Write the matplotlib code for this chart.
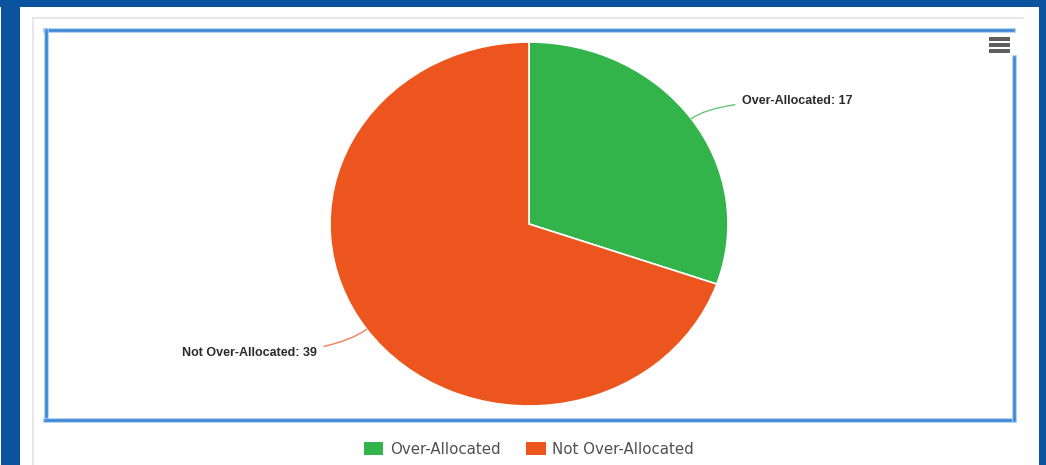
import matplotlib
matplotlib.use("Agg")
import matplotlib.pyplot as plt
from matplotlib.patches import Rectangle
from matplotlib.lines import Line2D
import numpy as np

categories = ["Over-Allocated", "Not Over-Allocated"]
values = [17, 39]
colors = ["#33b44a", "#ec561e"]

W, H = 1046, 465
fig = plt.figure(figsize=(W / 100, H / 100), dpi=100)

# background / frame overlay in pixel coordinates
bg = fig.add_axes([0, 0, 1, 1], zorder=0)
bg.set_xlim(0, W)
bg.set_ylim(H, 0)
bg.axis("off")
navy = "#0b539f"
bg.add_patch(Rectangle((0, 0), W, 7, color=navy, lw=0))
bg.add_patch(Rectangle((1, 0), 19, H, color=navy, lw=0))
bg.add_patch(Rectangle((1039, 0), 7, H, color=navy, lw=0))
# light gray panel
bg.add_line(Line2D([33, 1023], [18, 18], color="#e3e3e3", lw=1.2))
bg.add_line(Line2D([33, 33], [18, H], color="#e3e3e3", lw=1.2))
# blue chart frame
blue = "#3a84d4"
for xs, ys in (([45, 1013], [30.5, 30.5]), ([45.5, 45.5], [30, 420]),
               ([45, 1014], [419.5, 419.5]), ([1013.5, 1013.5], [57, 420])):
    bg.add_line(Line2D(xs, ys, color="#a9cdf2", lw=3.4))
    bg.add_line(Line2D(xs, ys, color=blue, lw=1.8))
# hamburger menu icon
for yy in (39, 45, 51):
    bg.add_patch(Rectangle((989, yy - 1.6), 21, 3.2, color="#5f5f5f", lw=0))

# pie axes: horizontal radius 199 px, vertical radius 182 px
cx, cy, rx, ry = 529, 224, 199, 182
pie_ax = fig.add_axes([(cx - rx) / W, (H - cy - ry) / H, 2 * rx / W, 2 * ry / H], zorder=1)
pie_ax.patch.set_alpha(0)
wedges, _ = pie_ax.pie(values, colors=colors, startangle=90, counterclock=False,
                       radius=1, wedgeprops=dict(edgecolor="white", linewidth=1.2))
pie_ax.set_aspect("auto")
pie_ax.set_xlim(-1, 1)
pie_ax.set_ylim(-1, 1)
pie_ax.axis("off")

label_pos = [(1.07, 0.676), (-1.065, -0.709)]
for w, cat, v, col, (tx, ty) in zip(wedges, categories, values, colors, label_pos):
    ang = np.deg2rad((w.theta1 + w.theta2) / 2)
    px, py = np.cos(ang), np.sin(ang)
    ha = "left" if px > 0 else "right"
    pie_ax.annotate(f"{cat}: {v}", xy=(px, py), xytext=(tx, ty),
                    ha=ha, va="center", fontsize=9, fontweight="bold",
                    family=["Liberation Sans", "DejaVu Sans"], color="#2b2b2b",
                    annotation_clip=False,
                    arrowprops=dict(arrowstyle="-", color=col, lw=1, alpha=0.75,
                                    shrinkA=3, shrinkB=0,
                                    connectionstyle="angle3,angleA=0,angleB=35"))

leg = fig.legend(wedges, categories, loc="center", bbox_to_anchor=(529 / W, 1 - 449 / H),
                 ncol=2, frameon=False, prop=dict(family="DejaVu Sans", size=10.8),
                 handlelength=1.3, handleheight=0.95, handletextpad=0.45, columnspacing=1.7,
                 labelcolor="#505050")
for h in leg.legend_handles:
    h.set_edgecolor("none")

fig.savefig("out.png", dpi=100)
